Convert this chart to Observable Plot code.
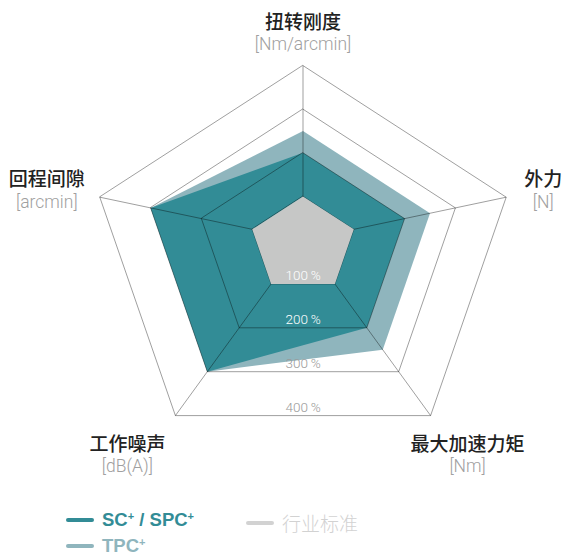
<!DOCTYPE html>
<html>
<head>
<meta charset="utf-8">
<script src="https://cdn.jsdelivr.net/npm/d3@7"></script>
<script src="https://cdn.jsdelivr.net/npm/@observablehq/plot@0.6"></script>
<style>
  html, body { margin: 0; padding: 0; background: #fff; }
  #wrap { position: relative; width: 563px; height: 554px; overflow: hidden; }
  #chart svg { display: block; }
  .leg { position: absolute; display: flex; align-items: center; white-space: nowrap; }
  .leg .ln { display: inline-block; width: 28px; height: 4px; border-radius: 2px; margin-right: 8px; }
  .leg .tx { font-family: "Liberation Sans", Arial, sans-serif; font-weight: bold; font-size: 18.5px; }
  .leg .tx sup { font-size: 11px; vertical-align: 6px; line-height: 0; }
  .leg .cn { font-family: "Noto Sans CJK SC", sans-serif; font-weight: 300; font-size: 19px; color: #c9c9c9; }
</style>
</head>
<body>
<div id="wrap">
  <div id="chart"></div>
</div>
<script>
// ---- data ----
const axes = ["扭转刚度", "外力", "最大加速力矩", "工作噪声", "回程间隙"];
const units = ["[Nm/arcmin]", "[N]", "[Nm]", "[dB(A)]", "[arcmin]"];
const scSpc = [200, 200, 200, 300, 300];     // SC+ / SPC+
const tpc = [250, 250, 250, 300, 300];       // TPC+
const industry = [100, 100, 100, 100, 100];  // 行业标准
const ringTicks = [100, 200, 300, 400];
const ringLabels = ["100\u2009%", "200\u2009%", "300\u2009%", "400\u2009%"];
const seriesNames = ["SC+ / SPC+", "TPC+", "行业标准"];

// ---- layout (drawing geometry of the slanted pentagon, pixels per 100 %) ----
const dirs = [[0, -43.6], [50.8, -10.7], [31.9, 43.9], [-31.9, 43.9], [-50.8, -10.7]];
const W = 563, H = 490, CX = 302.5, CY = 239.5;
const px = (i, v) => dirs[i][0] * v / 100;
const py = (i, v) => dirs[i][1] * v / 100;
const poly = (vals) => vals.map((v, i) => ({i, v}));

const ringData = ringTicks.flatMap(t => axes.map((a, i) => ({ring: t, i, v: t})));
const spokes = axes.map((a, i) => ({i}));
const maxTick = d3.max(ringTicks);

const COL_DARK = "#328c96", COL_LIGHT = "#8fb5bd", COL_GRAY = "#c6c7c6";

const labelOffsets = [[0, -43], [37, -17], [37, 29], [-48, 29], [-53, -17]];

const marks = [
  Plot.line(poly(tpc), {x: d => px(d.i, d.v), y: d => py(d.i, d.v), curve: "linear-closed", fill: COL_LIGHT, stroke: "none"}),
  Plot.line(poly(scSpc), {x: d => px(d.i, d.v), y: d => py(d.i, d.v), curve: "linear-closed", fill: COL_DARK, stroke: "none"}),
  Plot.line(ringData, {x: d => px(d.i, d.v), y: d => py(d.i, d.v), z: "ring", curve: "linear-closed", stroke: "#000", strokeOpacity: 0.42, strokeWidth: 0.9}),
  Plot.link(spokes, {x1: 0, y1: 0, x2: d => px(d.i, maxTick), y2: d => py(d.i, maxTick), stroke: "#000", strokeOpacity: 0.42, strokeWidth: 0.9}),
  Plot.line(poly(industry), {x: d => px(d.i, d.v), y: d => py(d.i, d.v), curve: "linear-closed", fill: COL_GRAY, stroke: "none"}),
  Plot.text(ringTicks, {
    x: 0, y: d => py(2, d), text: (d, k) => ringLabels[k], dy: -8,
    fill: d => d <= 200 ? "white" : "#999", fontSize: 13.5, fontFamily: "Roboto, 'Liberation Sans', sans-serif", fontWeight: 300
  })
];

axes.forEach((a, i) => {
  const [ox, oy] = labelOffsets[i];
  marks.push(Plot.text([i], {
    x: d => px(d, maxTick), y: d => py(d, maxTick), text: d => axes[d],
    dx: ox, dy: oy, fill: "#222", fontSize: 19, fontWeight: 500,
    fontFamily: "'Noto Sans CJK SC', sans-serif"
  }));
  marks.push(Plot.text([i], {
    x: d => px(d, maxTick), y: d => py(d, maxTick), text: d => units[d],
    dx: ox, dy: oy + 22, fill: "#a0a0a0", fontSize: 17.5, fontWeight: 300,
    fontFamily: "Roboto, 'Liberation Sans', sans-serif"
  }));
});

const chart = Plot.plot({
  width: W, height: H, margin: 0,
  x: {type: "linear", domain: [-CX, W - CX], range: [0, W], axis: null},
  y: {type: "linear", domain: [-CY, H - CY], range: [0, H], axis: null},
  color: {type: "identity"},
  marks
});
document.getElementById("chart").appendChild(chart);

// ---- legend ----
const wrap = document.getElementById("wrap");
function legItem(left, top, color, html, cls) {
  const d = document.createElement("div");
  d.className = "leg";
  d.style.left = left + "px";
  d.style.top = top + "px";
  d.innerHTML = `<span class="ln" style="background:${color}"></span><span class="${cls}" style="color:${color}">${html}</span>`;
  wrap.appendChild(d);
}
legItem(66, 509, COL_DARK, "SC<sup>+</sup> / SPC<sup>+</sup>", "tx");
legItem(66, 535, COL_LIGHT, "TPC<sup>+</sup>", "tx");
legItem(246, 509, "#d2d2d2", seriesNames[2], "cn");
</script>
</body>
</html>
